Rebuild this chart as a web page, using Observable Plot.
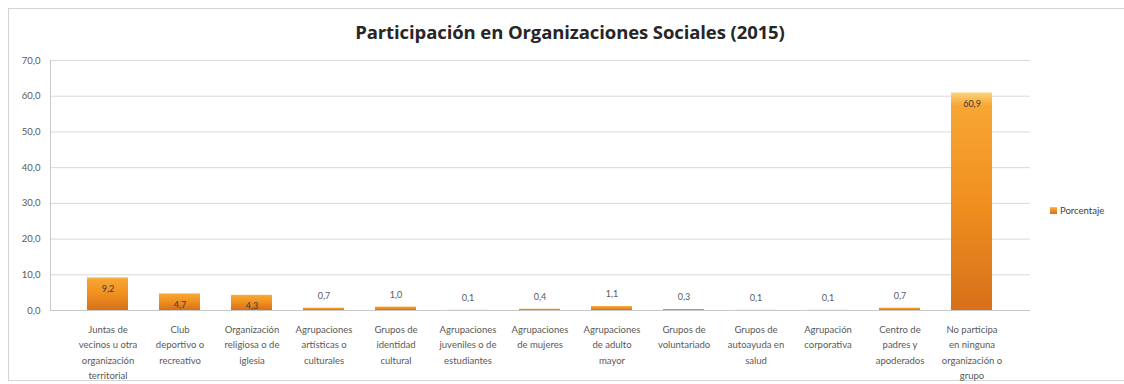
<!DOCTYPE html>
<html>
<head>
<meta charset="utf-8">
<script src="https://cdn.jsdelivr.net/npm/d3@7"></script>
<script src="https://cdn.jsdelivr.net/npm/@observablehq/plot@0.6"></script>
<style>
  html, body { margin: 0; padding: 0; background: #fff; }
  #wrap { position: relative; width: 1124px; height: 384px; overflow: hidden; font-family: Lato, "Open Sans", sans-serif; }
  #border { position: absolute; left: 8px; top: 8px; width: 1130px; height: 373px; border: 1px solid #d4d4d4; box-sizing: border-box; }
  #title { position: absolute; left: 0; width: 1140px; top: 19px; text-align: center; font-family: "Open Sans", sans-serif; font-weight: bold; font-size: 18.5px; color: #262626; letter-spacing: -0.1px; }
  #chart { position: absolute; left: 0; top: 50px; }
  #legend { position: absolute; left: 1050px; top: 205px; font-size: 9.5px; color: #404040; display: flex; align-items: center; gap: 3px; }
  #legend .sw { width: 7px; height: 7px; background: linear-gradient(#fbc15b, #f39a2b 30%, #d96f14); }
</style>
</head>
<body>
<div id="wrap">
  <div id="border"></div>
  <div id="title">Participación en Organizaciones Sociales (2015)</div>
  <div id="chart"></div>
  <div id="legend"><span class="sw"></span><span>Porcentaje</span></div>
</div>
<script>
const categories = [
  "Juntas de\nvecinos u otra\norganización\nterritorial",
  "Club\ndeportivo o\nrecreativo",
  "Organización\nreligiosa o de\niglesia",
  "Agrupaciones\nartísticas o\nculturales",
  "Grupos de\nidentidad\ncultural",
  "Agrupaciones\njuveniles o de\nestudiantes",
  "Agrupaciones\nde mujeres",
  "Agrupaciones\nde adulto\nmayor",
  "Grupos de\nvoluntariado",
  "Grupos de\nautoayuda en\nsalud",
  "Agrupación\ncorporativa",
  "Centro de\npadres y\napoderados",
  "No participa\nen ninguna\norganización o\ngrupo"
];
const values = [9.2, 4.7, 4.3, 0.7, 1.0, 0.1, 0.4, 1.1, 0.3, 0.1, 0.1, 0.7, 60.9];
const yTicks = [0, 10, 20, 30, 40, 50, 60, 70];

const data = categories.map((c, i) => ({cat: c, value: values[i]}));
const fmt = v => v.toFixed(1).replace(".", ",");

const plot = Plot.plot({
  width: 1124,
  height: 334,
  marginLeft: 50,
  marginRight: 94,
  marginTop: 10,
  marginBottom: 74,
  style: {fontFamily: "Lato, 'Open Sans', sans-serif", fontSize: "9.5px", color: "#595959", background: "transparent"},
  x: {domain: categories, padding: 0.43, label: null},
  y: {domain: [0, 70], label: null},
  marks: [
    Plot.gridY(yTicks, {stroke: "#d9d9d9", strokeOpacity: 1, strokeWidth: 1}),
    Plot.axisY({ticks: yTicks, tickSize: 0, tickPadding: 10, tickFormat: fmt, label: null, fill: "#595959"}),
    Plot.axisX({tickSize: 0, tickPadding: 12, lineHeight: 1.6, label: null, fill: "#595959"}),
    Plot.barY(data, {x: "cat", y: "value", fill: "url(#barGrad)"}),
    Plot.ruleY([0], {stroke: "#c8c8c8"}),
    Plot.frame({anchor: "left", stroke: "#c8c8c8"}),
    Plot.text(data.filter(d => d.value >= 3), {x: "cat", y: "value", text: d => fmt(d.value), dy: 11, fill: "#3a3a3a", fontSize: 9}),
    Plot.text(data.filter(d => d.value < 3), {x: "cat", y: "value", text: d => fmt(d.value), dy: -12, fill: "#595959", fontSize: 9})
  ]
});

const defs = document.createElementNS("http://www.w3.org/2000/svg", "defs");
defs.innerHTML = `<linearGradient id="barGrad" x1="0" y1="0" x2="0" y2="1">
  <stop offset="0" stop-color="#fcd27a"/>
  <stop offset="0.06" stop-color="#f7a634"/>
  <stop offset="0.5" stop-color="#f0901f"/>
  <stop offset="1" stop-color="#d7701a"/>
</linearGradient>`;
plot.insertBefore(defs, plot.firstChild);
document.getElementById("chart").appendChild(plot);
</script>
</body>
</html>
